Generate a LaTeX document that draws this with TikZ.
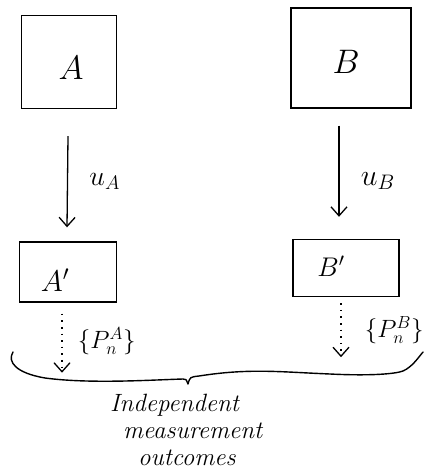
\RequirePackage{fix-cm}
\documentclass[tikz,border=0pt]{standalone}
\usetikzlibrary{arrows.meta}
\begin{document}
\begin{tikzpicture}[x=1pt,y=-1pt,
  sys/.style={draw, line width=1.4pt, inner sep=0pt},
  flow/.style={line width=1.3pt, -{Straight Barb[length=9pt,width=16pt,line width=1.3pt]}},
  meas/.style={flow, dash pattern=on 1.6pt off 5pt},
  lbl/.style={font=\fontsize{34}{38}\selectfont},
  note/.style={font=\fontsize{25}{27}\selectfont\itshape, align=left, inner sep=0pt}]
\useasboundingbox (0,0) rectangle (423,470);
% systems
\node[sys, minimum width=95pt, minimum height=93pt] (A) at (69,62) {};
\node[lbl] at (71,68) {$A$};
\node[sys, minimum width=120pt, minimum height=100pt] (B) at (351,58) {};
\node[lbl] at (346,62) {$B$};
\node[sys, minimum width=97pt, minimum height=60pt] (Ap) at (68,272) {};
\node[lbl, font=\fontsize{30}{34}\selectfont] at (55,280) {$A'$};
\node[sys, minimum width=106pt, minimum height=57pt] (Bp) at (346,268) {};
\node[lbl, font=\fontsize{27}{30}\selectfont] at (331,266) {$B'$};
% unitaries
\draw[flow] ([xshift=-1pt,yshift=-27pt]A.south) -- node[right=18pt, font=\fontsize{28}{32}\selectfont] {$u_A$} ([xshift=-1pt,yshift=14pt]Ap.north);
\draw[flow] ([xshift=-12pt,yshift=-17pt]B.south) -- node[right=18pt, yshift=-10pt, font=\fontsize{30}{34}\selectfont] {$u_B$} ([xshift=-7pt,yshift=22pt]Bp.north);
% measurements
\draw[meas] ([xshift=-6pt,yshift=-11pt]Ap.south) -- node[right=12pt, yshift=2pt, font=\fontsize{25}{28}\selectfont] {$\{P_n^A\}$} ++(0,59);
\draw[meas] ([xshift=-5pt,yshift=-6pt]Bp.south) -- node[right=20pt, font=\fontsize{25}{28}\selectfont] {$\{P_n^B\}$} ++(0,54);
% brace
\draw[line width=1.4pt, line cap=round, line join=round]
  (13,352) .. controls (7,362) and (16,373) .. (45,378)
  .. controls (90,384) and (150,380) .. (183,379)
  .. controls (186,379) .. (188,384)
  .. controls (190,377) .. (199,376)
  .. controls (250,368) and (280,372) .. (330,374)
  .. controls (370,376) and (395,374) .. (403,371)
  .. controls (412,367) and (418,358) .. (423,352);
\node[note, anchor=north west] (out) at (110,394) {Independent\\ \hspace*{13pt}measurement\\ \hspace*{28pt}outcomes};
\end{tikzpicture}
\end{document}
